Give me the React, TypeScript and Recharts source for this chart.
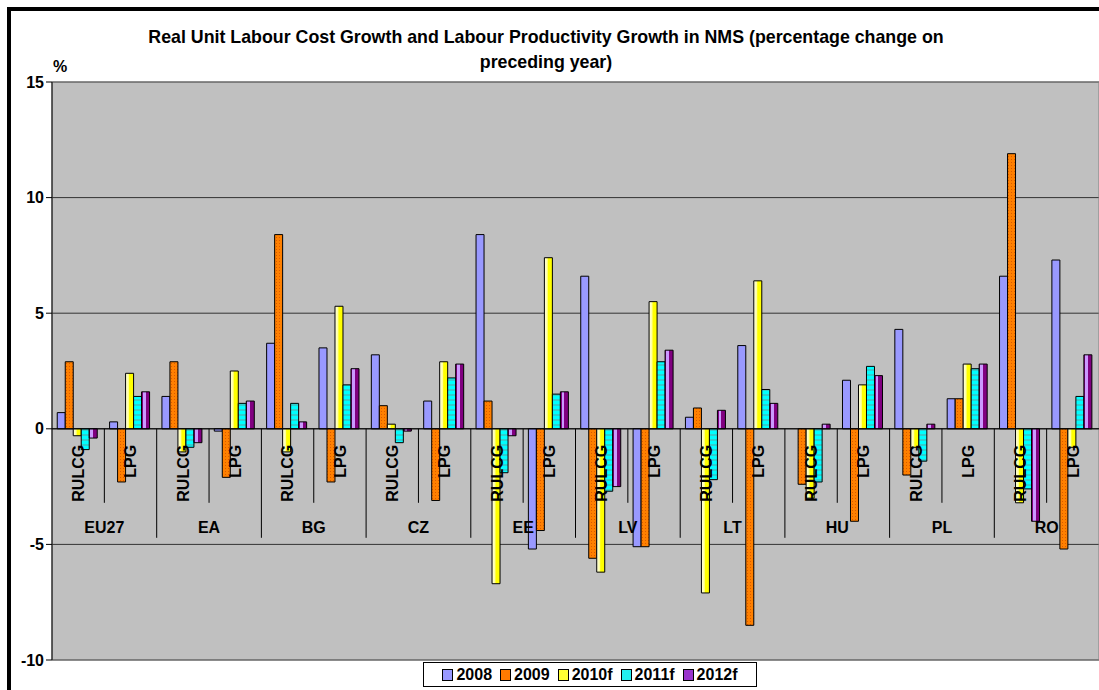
import React from 'react';
import { BarChart, Bar, XAxis, YAxis, CartesianGrid, ReferenceLine, ReferenceArea, Legend } from 'recharts';

const COUNTRIES = ['EU27', 'EA', 'BG', 'CZ', 'EE', 'LV', 'LT', 'HU', 'PL', 'RO'];
const MEASURES = ['RULCG', 'LPG'];

// values per category: EU27 RULCG, EU27 LPG, EA RULCG, EA LPG, ...
const V2008 = [0.7, 0.3, 1.4, -0.1, 3.7, 3.5, 3.2, 1.2, 8.4, -5.2, 6.6, -5.1, 0.5, 3.6, null, 2.1, 4.3, 1.3, 6.6, 7.3];
const V2009 = [2.9, -2.3, 2.9, -2.1, 8.4, -2.3, 1.0, -3.1, 1.2, -4.4, -5.6, -5.1, 0.9, -8.5, -2.4, -4.0, -2.0, 1.3, 11.9, -5.2];
const V2010F = [-0.3, 2.4, -1.0, 2.5, -1.0, 5.3, 0.2, 2.9, -6.7, 7.4, -6.2, 5.5, -7.1, 6.4, -3.0, 1.9, -0.8, 2.8, -3.2, -0.8];
const V2011F = [-0.9, 1.4, -0.8, 1.1, 1.1, 1.9, -0.6, 2.2, -1.9, 1.5, -2.7, 2.9, -2.2, 1.7, -2.3, 2.7, -1.4, 2.6, -2.6, 1.4];
const V2012F = [-0.4, 1.6, -0.6, 1.2, 0.3, 2.6, -0.1, 2.8, -0.3, 1.6, -2.5, 3.4, 0.8, 1.1, 0.2, 2.3, 0.2, 2.8, -4.0, 3.2];

const Y_TICKS = [-10, -5, 0, 5, 10, 15];

const SERIES = [
  { key: 'y2008', name: '2008', values: V2008, fill: '#9999FF', swatch: '#9999FF' },
  { key: 'y2009', name: '2009', values: V2009, fill: 'url(#pat2009)', swatch: '#FF7A00' },
  { key: 'y2010f', name: '2010f', values: V2010F, fill: 'url(#grad2010)', swatch: '#FFFF33' },
  { key: 'y2011f', name: '2011f', values: V2011F, fill: 'url(#pat2011)', swatch: '#22F0F0' },
  { key: 'y2012f', name: '2012f', values: V2012F, fill: 'url(#grad2012)', swatch: '#9933CC' },
];

const DATA = COUNTRIES.flatMap((c, ci) =>
  MEASURES.map((m, mi) => {
    const idx = ci * 2 + mi;
    const row: any = { id: c + '-' + m, country: c, measure: m };
    SERIES.forEach((s) => {
      row[s.key] = s.values[idx];
    });
    return row;
  })
);

const FONT = '"Liberation Sans", Arial, sans-serif';

const AxisLabels = (props: any) => {
  const vb = props.viewBox || {};
  const x0 = vb.x ?? 0;
  const y0 = vb.y ?? 0;
  const width = vb.width ?? 0;
  const n = DATA.length;
  const w = width / n;
  const items: any[] = [];
  DATA.forEach((d, i) => {
    const cx = x0 + (i + 0.5) * w;
    items.push(
      <text
        key={'m' + i}
        x={cx}
        y={y0 + 16}
        transform={`rotate(-90 ${cx} ${y0 + 16})`}
        textAnchor="end"
        dy="0.36em"
        fontFamily={FONT}
        fontWeight="bold"
        fontSize={16}
        fill="#000"
      >
        {d.measure}
      </text>
    );
  });
  COUNTRIES.forEach((c, k) => {
    const gx = x0 + (2 * k + 1) * w;
    items.push(
      <line key={'s' + k} x1={gx} x2={gx} y1={y0} y2={y0 + 74} stroke="#000" strokeWidth={1} />
    );
    if (k > 0) {
      const bx = x0 + 2 * k * w;
      items.push(
        <line key={'l' + k} x1={bx} x2={bx} y1={y0} y2={y0 + 109} stroke="#000" strokeWidth={1} />
      );
    }
    items.push(
      <text
        key={'c' + k}
        x={gx}
        y={y0 + 104}
        textAnchor="middle"
        fontFamily={FONT}
        fontWeight="bold"
        fontSize={16}
        fill="#000"
      >
        {c}
      </text>
    );
  });
  return <g>{items}</g>;
};

const LegendBox = () => (
  <div
    style={{
      border: '1px solid #000',
      background: '#fff',
      display: 'flex',
      alignItems: 'center',
      justifyContent: 'center',
      gap: 8,
      height: 25,
      boxSizing: 'border-box',
      fontFamily: FONT,
      fontWeight: 'bold',
      fontSize: 16,
      color: '#000',
    }}
  >
    {SERIES.map((s) => (
      <div key={s.key} style={{ display: 'flex', alignItems: 'center', gap: 3 }}>
        <span
          style={{
            display: 'inline-block',
            width: 9,
            height: 10,
            border: '1px solid #000',
            background: s.swatch,
          }}
        />
        <span>{s.name}</span>
      </div>
    ))}
  </div>
);

export default function App() {
  return (
    <div
      style={{
        position: 'fixed',
        left: 0,
        top: 0,
        width: 1099,
        height: 690,
        background: '#fff',
        overflow: 'hidden',
      }}
    >
      <div
        style={{
          position: 'absolute',
          left: 7,
          top: 7,
          borderLeft: '4px solid #000',
          borderTop: '4px solid #000',
          width: 1088,
          height: 679,
        }}
      >
        <BarChart
          width={1088}
          height={679}
          data={DATA}
          margin={{ top: 71, right: 0, bottom: 30, left: 0 }}
          barCategoryGap="10%"
          barGap={0}
        >
          <defs>
            <pattern id="pat2009" patternUnits="userSpaceOnUse" width="3" height="3">
              <rect width="3" height="3" fill="#FF8000" />
              <rect x="1" y="1" width="1" height="1" fill="#D95A00" />
            </pattern>
            <linearGradient id="grad2010" x1="0" y1="0" x2="1" y2="0">
              <stop offset="0" stopColor="#FFFFE6" />
              <stop offset="0.35" stopColor="#FFFFA0" />
              <stop offset="0.5" stopColor="#FFFF00" />
              <stop offset="1" stopColor="#FFFF00" />
            </linearGradient>
            <pattern id="pat2011" patternUnits="userSpaceOnUse" width="4" height="5">
              <rect width="4" height="5" fill="#00FFFF" />
              <rect y="3" width="4" height="2" fill="#30CFCF" />
            </pattern>
            <linearGradient id="grad2012" x1="0" y1="0" x2="1" y2="0">
              <stop offset="0" stopColor="#800080" />
              <stop offset="0.15" stopColor="#800080" />
              <stop offset="0.15" stopColor="#CC99FF" />
              <stop offset="0.5" stopColor="#CC99FF" />
              <stop offset="0.5" stopColor="#800080" />
              <stop offset="1" stopColor="#800080" />
            </linearGradient>
          </defs>
          <CartesianGrid vertical={false} stroke="#333" fill="#C0C0C0" />
          <XAxis dataKey="id" hide />
          <YAxis
            domain={[-10, 15]}
            ticks={Y_TICKS}
            interval={0}
            width={41}
            axisLine={{ stroke: '#000' }}
            tickLine={{ stroke: '#000' }}
            tickSize={6}
            tickMargin={2}
            tick={{ fontSize: 16, fontWeight: 'bold', fill: '#000', fontFamily: FONT }}
          />
          <ReferenceArea y1={-10} y2={15} fill="none" stroke="#808080" strokeWidth={1} />
          {SERIES.map((s) => (
            <Bar
              key={s.key}
              dataKey={s.key}
              name={s.name}
              fill={s.fill}
              stroke="#000"
              strokeWidth={1}
              isAnimationActive={false}
            />
          ))}
          <ReferenceLine y={0} stroke="#000" strokeWidth={1} label={(p: any) => <AxisLabels {...p} />} />
          <Legend
            layout="vertical"
            align="center"
            verticalAlign="middle"
            wrapperStyle={{ left: 412, top: 651, width: 334, height: 25 }}
            content={() => <LegendBox />}
          />
        </BarChart>
      </div>
      <div
        style={{
          position: 'absolute',
          left: 96,
          top: 25,
          width: 900,
          textAlign: 'center',
          fontFamily: FONT,
          fontWeight: 'bold',
          fontSize: 17.8,
          lineHeight: '25px',
          color: '#000',
        }}
      >
        Real Unit Labour Cost Growth and Labour Productivity Growth in NMS (percentage change on
        <br />
        preceding year)
      </div>
      <div
        style={{
          position: 'absolute',
          left: 53,
          top: 58,
          fontFamily: FONT,
          fontWeight: 'bold',
          fontSize: 16,
          color: '#000',
        }}
      >
        %
      </div>
    </div>
  );
}
